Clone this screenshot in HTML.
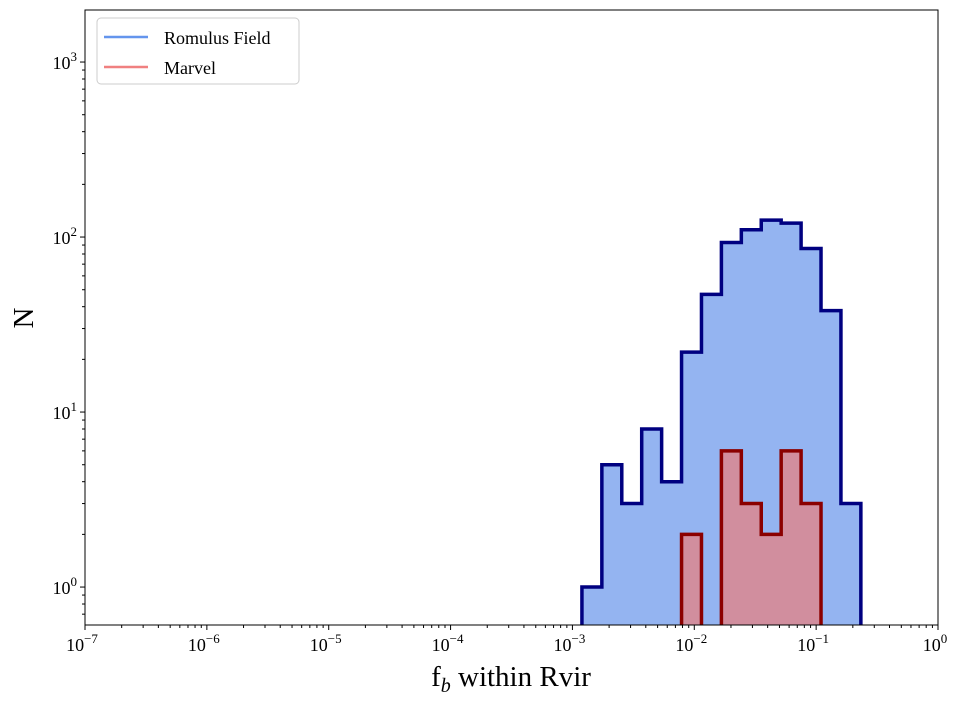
<!DOCTYPE html>
<html><head><meta charset="utf-8"><style>
body{margin:0;background:#fff;}
svg{display:block;font-family:"Liberation Serif",serif;}
</style></head><body>
<svg id="chart" width="961" height="702" xmlns="http://www.w3.org/2000/svg"></svg>
<script>
const binEdgesLog = [-2.922,-2.7585,-2.595,-2.4315,-2.268,-2.1045,-1.941,-1.7775,-1.614,-1.4505,-1.287,-1.1235,-0.96,-0.7965,-0.633];
const romulusCounts = [1,5,3,8,4,22,47,93,110,125,120,86,38,3];
const marvelCounts = [0,0,0,0,0,2,0,6,3,2,6,3,0,0];
const xTickExps = [-7,-6,-5,-4,-3,-2,-1,0];
const yTickExps = [0,1,2,3];

const L=85,R=938,T=10,B=625;
const xMin=-7,xMax=0,yMin=Math.log10(0.607),yMax=Math.log10(1983);
const X=lg=>L+(lg-xMin)/(xMax-xMin)*(R-L);
const Y=v=>{if(v<=0)return B+10;return B-(Math.log10(v)-yMin)/(yMax-yMin)*(B-T);};
const svg=document.getElementById('chart');
const NS='http://www.w3.org/2000/svg';
function mk(tag,attrs,parent){const e=document.createElementNS(NS,tag);for(const k in attrs)e.setAttribute(k,attrs[k]);(parent||svg).appendChild(e);return e;}

const defs=mk('defs',{});
const cp=mk('clipPath',{id:'clip'},defs);
mk('rect',{x:L,y:T,width:R-L,height:B-T},cp);

function stepPath(counts){
  let d='';let started=false;
  for(let i=0;i<counts.length;i++){
    const x0=X(binEdgesLog[i]),x1=X(binEdgesLog[i+1]),y=Y(counts[i]);
    if(!started){d+=`M${x0},${B+10} L${x0},${y} `;started=true;}
    else d+=`L${x0},${y} `;
    d+=`L${x1},${y} `;
  }
  d+=`L${X(binEdgesLog[counts.length])},${B+10}`;
  return d;
}
const g=mk('g',{'clip-path':'url(#clip)'});
const rf=mk('path',{d:stepPath(romulusCounts)+' Z',fill:'#94b4f1',stroke:'none'},g);

const mf=mk('path',{d:stepPath(marvelCounts)+' Z',fill:'#d18e9e',stroke:'none'},g);

const re=mk('path',{d:stepPath(romulusCounts),fill:'none',stroke:'#000080','stroke-width':3.5},g);

const me=mk('path',{d:stepPath(marvelCounts),fill:'none',stroke:'#8b0000','stroke-width':3.5},g);


mk('rect',{x:L,y:T,width:R-L,height:B-T,fill:'none',stroke:'#000','stroke-width':1});

// x ticks
xTickExps.forEach(e=>{
  const x=X(e);
  mk('line',{x1:x,y1:B,x2:x,y2:B+5,stroke:'#000'});
  const t=mk('text',{x:x-3,y:B+26,'font-size':18,'text-anchor':'middle'});
  
  t.innerHTML=`10<tspan dy="-8" font-size="13">${e<0?'\u2212'+(-e):e}</tspan>`;
  if(e<0)for(let m=2;m<10;m++){const xm=X(e+Math.log10(m));mk('line',{x1:xm,y1:B,x2:xm,y2:B+3,stroke:'#000'});}
});
// y ticks
yTickExps.forEach(e=>{
  const y=Y(Math.pow(10,e));
  mk('line',{x1:L,y1:y,x2:L-5,y2:y,stroke:'#000'});
  const t=mk('text',{x:L-8,y:y+7,'font-size':18,'text-anchor':'end'});
  
  t.innerHTML=`10<tspan dy="-8" font-size="13">${e}</tspan>`;
});
for(let e=-1;e<=3;e++)for(let m=2;m<10;m++){const v=Math.pow(10,e)*m;const y=Y(v);if(y>T&&y<B)mk('line',{x1:L,y1:y,x2:L-3,y2:y,stroke:'#000'});}

const xt=mk('text',{x:511,y:686,'font-size':29,'text-anchor':'middle'});

xt.innerHTML='f<tspan dy="6" font-size="20" font-style="italic">b</tspan><tspan dy="-6"> within Rvir</tspan>';
const yt=mk('text',{x:33,y:318,'font-size':29,'text-anchor':'middle',transform:'rotate(-90 33 318)'});

yt.textContent='N';

// legend
const lg=mk('g',{});

mk('rect',{x:97,y:18,width:202,height:66,rx:4,fill:'#fff',stroke:'#ccc'},lg);
mk('line',{x1:104,y1:37,x2:148,y2:37,stroke:'#6495ed','stroke-width':2.5},lg);
mk('line',{x1:104,y1:67,x2:148,y2:67,stroke:'#f08080','stroke-width':2.5},lg);
const l1=mk('text',{x:164,y:44,'font-size':18},lg);l1.textContent='Romulus Field';

const l2=mk('text',{x:164,y:74,'font-size':18},lg);l2.textContent='Marvel';

</script>
</body></html>
